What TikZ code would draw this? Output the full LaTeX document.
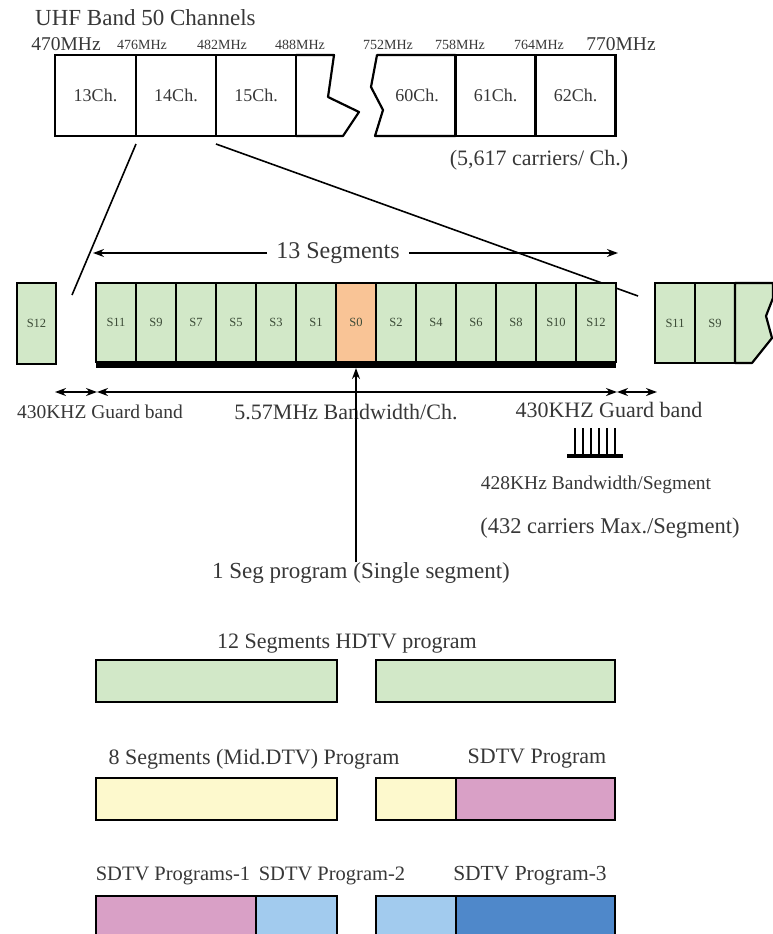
\documentclass[tikz,border=0pt]{standalone}
\usepackage{fontspec}
\setmainfont{Liberation Serif}
\usetikzlibrary{positioning,arrows.meta}

\definecolor{seggreen}{RGB}{210,232,200}
\definecolor{segorange}{RGB}{249,196,150}
\definecolor{progyellow}{RGB}{253,249,205}
\definecolor{progpink}{RGB}{217,160,198}
\definecolor{proglblue}{RGB}{162,203,238}
\definecolor{progdblue}{RGB}{79,136,202}
\definecolor{txtgray}{RGB}{55,55,55}
\definecolor{segtxt}{RGB}{60,75,55}

\begin{document}
\begin{tikzpicture}[x=1pt,y=-1pt,>={Stealth[length=11pt,width=8pt]},node distance=40pt,
    ch node/.style={draw,line width=2.2pt,text=txtgray,minimum width=80pt,minimum height=81pt,inner sep=0pt,outer sep=0pt,font=\fontsize{18}{18}\selectfont},
    seg node/.style={draw,line width=2.2pt,fill=seggreen,text=segtxt,minimum width=40pt,minimum height=79pt,inner sep=0pt,outer sep=0pt,font=\fontsize{12.5}{12.5}\selectfont},
    prog box/.style={draw,line width=2.2pt,minimum height=42pt,inner sep=0pt,outer sep=0pt},
    big label/.style={text=txtgray,inner sep=0pt,font=\fontsize{22}{22}\selectfont},
    mid label/.style={text=txtgray,inner sep=0pt,font=\fontsize{19.5}{19.5}\selectfont},
    freq label/.style={text=txtgray,inner sep=0pt,font=\fontsize{14}{14}\selectfont}]
    \useasboundingbox (0,0) rectangle (772,934);

    % UHF band
    \node[big label,font=\fontsize{23}{23}\selectfont,anchor=west] (uhf) at (35,18) {UHF Band 50 Channels};
    \node[mid label] (f470) at (66,44) {470MHz};
    \node[freq label] (f476) at (142,45) {476MHz};
    \node[freq label] (f482) at (222,45) {482MHz};
    \node[freq label] (f488) at (300,45) {488MHz};
    \node[freq label] (f752) at (388,45) {752MHz};
    \node[freq label] (f758) at (460,45) {758MHz};
    \node[freq label] (f764) at (539,45) {764MHz};
    \node[mid label] (f770) at (621,44) {770MHz};

    \node[ch node,minimum width=81pt] (c13) at (95.5,95.5) {13Ch.};
    \node[ch node] (c14) [right=0pt of c13] {14Ch.};
    \node[ch node] (c15) [right=0pt of c14] {15Ch.};
    \draw[line width=2.2pt,line join=round] (c15.north east) -- (334,55) -- (328,97) -- (359,112) -- (343,136) -- (c15.south east);

    \node[ch node] (c61) at (495.5,95.5) {61Ch.};
    \node[ch node] (c62) [right=0pt of c61] {62Ch.};
    \draw[line width=2.2pt,line join=round] (c61.north west) -- (377,55) -- (371,87) -- (383,110) -- (375,136) -- (c61.south west);
    \node[text=txtgray,font=\fontsize{18}{18}\selectfont] (c60) at (417,95.5) {60Ch.};

    \node[big label] (carrch) at (539,160) {(5,617 carriers/ Ch.)};

    % zoom lines
    \coordinate (zl) at (72,295);
    \coordinate (zr) at (638,296);
    \draw[line width=1.6pt] ([yshift=-8pt]c14.south west) -- (zl);
    \draw[line width=1.6pt] ([yshift=-8pt]c15.south west) -- (zr);

    % 13 segments
    \node[big label,font=\fontsize{24}{24}\selectfont,inner xsep=9pt] (thirteen) at (338,253) {13 Segments};
    \coordinate (segl) at (93,253);
    \coordinate (segr) at (618,253);
    \draw[->,line width=1.8pt] (thirteen) -- (segl);
    \draw[->,line width=1.8pt] (thirteen) -- (segr);

    \node[seg node,minimum width=39pt,minimum height=81pt] (l12) at (36.5,323.5) {S12};

    \node[seg node] (s11) at (116,322.5) {S11};
    \node[seg node] (s9) [right of=s11] {S9};
    \node[seg node] (s7) [right of=s9] {S7};
    \node[seg node] (s5) [right of=s7] {S5};
    \node[seg node] (s3) [right of=s5] {S3};
    \node[seg node] (s1) [right of=s3] {S1};
    \node[seg node,fill=segorange] (s0) [right of=s1] {S0};
    \node[seg node] (s2) [right of=s0] {S2};
    \node[seg node] (s4) [right of=s2] {S4};
    \node[seg node] (s6) [right of=s4] {S6};
    \node[seg node] (s8) [right of=s6] {S8};
    \node[seg node] (s10) [right of=s8] {S10};
    \node[seg node] (s12) [right of=s10] {S12};
    \draw[line width=6pt] ([yshift=-3pt]s11.south west) -- ([yshift=-3pt]s12.south east);

    \node[seg node,minimum height=80pt] (r11) at (675,323) {S11};
    \node[seg node,minimum height=80pt] (r9) [right of=r11] {S9};
    \draw[line width=2.2pt,line join=round,fill=seggreen] (r9.north east) -- (773,283) -- (773,298) -- (766,316) -- (772,338) -- (752,363) -- (r9.south east) -- cycle;

    % bandwidth
    \coordinate (gb1) at (55,392);
    \coordinate (gb2) at (97,392);
    \coordinate (gb3) at (617,392);
    \coordinate (gb4) at (657,392);
    \draw[<->,line width=1.8pt] (gb1) -- (gb2);
    \draw[<->,line width=1.8pt] (gb2) -- (gb3);
    \draw[<->,line width=1.8pt] (gb3) -- (gb4);
    \node[mid label] (gleft) at (100,412) {430KHZ Guard band};
    \node[big label] (bw) at (346,412) {5.57MHz Bandwidth/Ch.};
    \node[big label] (gright) at (609,410) {430KHZ Guard band};

    \draw[line width=1.3pt] (575,428) -- (575,455) (583,428) -- (583,455) (591,428) -- (591,455)
        (599,428) -- (599,455) (607,428) -- (607,455) (615,428) -- (615,455);
    \draw[line width=3.5pt] (567,456) -- (623,456);
    \node[mid label] (bwseg) at (596,485) {428KHz Bandwidth/Segment};
    \node[big label,font=\fontsize{22.5}{22.5}\selectfont] (carrseg) at (610,528) {(432 carriers Max./Segment)};

    \node[big label,font=\fontsize{23}{23}\selectfont] (oneseg) at (361,573) {1 Seg program (Single segment)};
    \draw[->,line width=2.2pt] (s0 |- oneseg.north) -- ([yshift=-6pt]s0.south);

    % programs
    \node[big label] (hdtv) at (347,644) {12 Segments HDTV program};
    \node[prog box,fill=seggreen,minimum width=241pt] (hd1) at (216.5,681) {};
    \node[prog box,fill=seggreen,minimum width=239pt] (hd2) at (495.5,681) {};

    \node[big label] (midtv) at (254,759) {8 Segments (Mid.DTV) Program};
    \node[big label] (sdtv) at (537,759) {SDTV Program};
    \node[prog box,fill=progyellow,minimum width=241pt] (mid1) at (216.5,799) {};
    \node[prog box,fill=progyellow,minimum width=80pt] (mid2) at (416,799) {};
    \node[prog box,fill=progpink,minimum width=159pt] (sd1) [right=0pt of mid2] {};

    \node[big label,font=\fontsize{20.5}{20.5}\selectfont] (sdp1) at (173,876) {SDTV Programs-1};
    \node[big label,font=\fontsize{20.5}{20.5}\selectfont] (sdp2) at (332,876) {SDTV Program-2};
    \node[big label,font=\fontsize{21.5}{21.5}\selectfont] (sdp3) at (530,876) {SDTV Program-3};
    \node[prog box,fill=progpink,minimum width=160pt] (p1) at (176,917) {};
    \node[prog box,fill=proglblue,minimum width=81pt] (p2a) [right=0pt of p1] {};
    \node[prog box,fill=proglblue,minimum width=80pt] (p2b) at (416,917) {};
    \node[prog box,fill=progdblue,minimum width=159pt] (p3) [right=0pt of p2b] {};
\end{tikzpicture}
\end{document}
